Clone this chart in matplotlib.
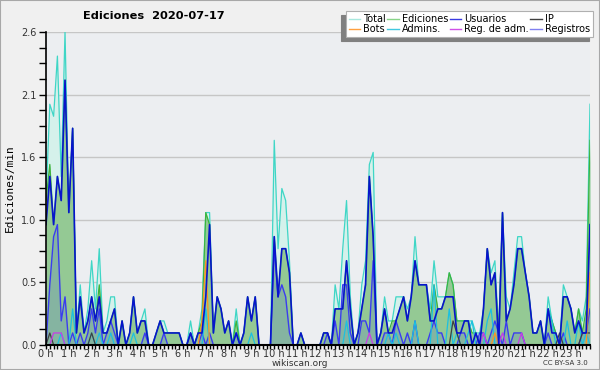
import matplotlib
matplotlib.use("Agg")
import matplotlib.pyplot as plt
from matplotlib.lines import Line2D
from matplotlib.ticker import FixedLocator, MultipleLocator
import numpy as np

# valores cada 10 minutos (ediciones/min), 6 por hora
total = [
    1.2, 2.0, 1.9, 2.4, 1.4, 2.6,   # 0 h
    1.1, 1.8, 0.1, 0.5, 0.1, 0.3,   # 1 h
    0.7, 0.3, 0.8, 0.1, 0.2, 0.4,   # 2 h
    0.4, 0.0, 0.2, 0.0, 0.1, 0.4,   # 3 h
    0.1, 0.2, 0.3, 0.0, 0.0, 0.1,   # 4 h
    0.2, 0.2, 0.1, 0.1, 0.1, 0.1,   # 5 h
    0.0, 0.0, 0.2, 0.0, 0.1, 0.3,   # 6 h
    1.1, 1.1, 0.1, 0.4, 0.3, 0.1,   # 7 h
    0.2, 0.0, 0.3, 0.0, 0.1, 0.4,   # 8 h
    0.2, 0.4, 0.0, 0.0, 0.0, 0.0,   # 9 h
    1.7, 0.8, 1.3, 1.2, 0.7, 0.0,   # 10 h
    0.0, 0.1, 0.0, 0.0, 0.0, 0.0,   # 11 h
    0.0, 0.1, 0.1, 0.0, 0.5, 0.3,   # 12 h
    0.8, 1.2, 0.4, 0.0, 0.1, 0.5,   # 13 h
    0.7, 1.5, 1.6, 0.0, 0.1, 0.4,   # 14 h
    0.2, 0.2, 0.4, 0.4, 0.4, 0.3,   # 15 h
    0.4, 0.9, 0.5, 0.5, 0.5, 0.3,   # 16 h
    0.7, 0.4, 0.4, 0.4, 0.6, 0.5,   # 17 h
    0.2, 0.2, 0.2, 0.2, 0.2, 0.1,   # 18 h
    0.1, 0.3, 0.8, 0.6, 0.7, 0.1,   # 19 h
    1.1, 0.4, 0.3, 0.6, 0.9, 0.9,   # 20 h
    0.6, 0.4, 0.1, 0.1, 0.2, 0.0,   # 21 h
    0.4, 0.2, 0.1, 0.0, 0.5, 0.4,   # 22 h
    0.3, 0.1, 0.3, 0.2, 0.4, 2.0,   # 23 h
]
ediciones = [
    1.2, 1.5, 1.0, 1.4, 1.2, 2.2,
    1.1, 1.8, 0.1, 0.4, 0.1, 0.2,
    0.4, 0.2, 0.5, 0.1, 0.1, 0.2,
    0.3, 0.0, 0.2, 0.0, 0.1, 0.4,
    0.1, 0.2, 0.2, 0.0, 0.0, 0.1,
    0.2, 0.1, 0.1, 0.1, 0.1, 0.1,
    0.0, 0.0, 0.1, 0.0, 0.1, 0.2,
    1.1, 1.0, 0.1, 0.4, 0.3, 0.1,
    0.2, 0.0, 0.2, 0.0, 0.1, 0.4,
    0.2, 0.4, 0.0, 0.0, 0.0, 0.0,
    0.9, 0.4, 0.8, 0.8, 0.6, 0.0,
    0.0, 0.1, 0.0, 0.0, 0.0, 0.0,
    0.0, 0.1, 0.1, 0.0, 0.3, 0.3,
    0.3, 0.7, 0.3, 0.0, 0.1, 0.3,
    0.5, 1.4, 0.9, 0.0, 0.1, 0.3,
    0.1, 0.2, 0.2, 0.3, 0.4, 0.2,
    0.4, 0.7, 0.5, 0.5, 0.5, 0.2,
    0.5, 0.3, 0.3, 0.4, 0.6, 0.5,
    0.2, 0.2, 0.2, 0.2, 0.1, 0.1,
    0.0, 0.3, 0.8, 0.5, 0.6, 0.1,
    1.1, 0.2, 0.3, 0.5, 0.8, 0.8,
    0.6, 0.4, 0.1, 0.1, 0.2, 0.0,
    0.3, 0.2, 0.1, 0.0, 0.4, 0.4,
    0.3, 0.1, 0.3, 0.1, 0.3, 1.7,
]
usuarios = [
    1.0, 1.4, 1.0, 1.4, 1.2, 2.2,
    1.1, 1.8, 0.1, 0.4, 0.1, 0.2,
    0.4, 0.2, 0.4, 0.1, 0.1, 0.2,
    0.3, 0.0, 0.2, 0.0, 0.1, 0.4,
    0.1, 0.2, 0.2, 0.0, 0.0, 0.1,
    0.2, 0.1, 0.1, 0.1, 0.1, 0.1,
    0.0, 0.0, 0.1, 0.0, 0.1, 0.1,
    0.4, 1.0, 0.1, 0.4, 0.3, 0.1,
    0.2, 0.0, 0.1, 0.0, 0.1, 0.4,
    0.2, 0.4, 0.0, 0.0, 0.0, 0.0,
    0.9, 0.4, 0.8, 0.8, 0.6, 0.0,
    0.0, 0.1, 0.0, 0.0, 0.0, 0.0,
    0.0, 0.1, 0.1, 0.0, 0.3, 0.3,
    0.3, 0.7, 0.3, 0.0, 0.1, 0.3,
    0.5, 1.4, 0.9, 0.0, 0.1, 0.3,
    0.1, 0.1, 0.2, 0.3, 0.4, 0.2,
    0.4, 0.7, 0.5, 0.5, 0.5, 0.2,
    0.2, 0.3, 0.3, 0.4, 0.4, 0.4,
    0.1, 0.1, 0.2, 0.2, 0.0, 0.1,
    0.0, 0.3, 0.8, 0.5, 0.6, 0.0,
    1.1, 0.2, 0.3, 0.5, 0.8, 0.8,
    0.6, 0.4, 0.1, 0.1, 0.2, 0.0,
    0.3, 0.1, 0.1, 0.0, 0.4, 0.4,
    0.3, 0.1, 0.2, 0.1, 0.1, 1.0,
]
registros = [
    0.0, 0.5, 0.9, 1.0, 0.2, 0.4,
    0.0, 0.1, 0.0, 0.1, 0.0, 0.1,
    0.3, 0.1, 0.3, 0.0, 0.1, 0.2,
    0.1, 0.0, 0.0, 0.0, 0.0, 0.0,
    0.0, 0.0, 0.1, 0.0, 0.0, 0.0,
    0.0, 0.1, 0.0, 0.0, 0.0, 0.0,
    0.0, 0.0, 0.1, 0.0, 0.0, 0.1,
    0.0, 0.1, 0.0, 0.0, 0.0, 0.0,
    0.0, 0.0, 0.1, 0.0, 0.0, 0.0,
    0.0, 0.0, 0.0, 0.0, 0.0, 0.0,
    0.8, 0.4, 0.5, 0.4, 0.1, 0.0,
    0.0, 0.0, 0.0, 0.0, 0.0, 0.0,
    0.0, 0.0, 0.1, 0.0, 0.2, 0.0,
    0.5, 0.5, 0.1, 0.0, 0.0, 0.2,
    0.2, 0.1, 0.7, 0.0, 0.0, 0.1,
    0.1, 0.0, 0.2, 0.1, 0.0, 0.1,
    0.0, 0.2, 0.0, 0.0, 0.0, 0.1,
    0.2, 0.1, 0.1, 0.0, 0.0, 0.0,
    0.0, 0.1, 0.1, 0.0, 0.0, 0.0,
    0.1, 0.1, 0.0, 0.1, 0.2, 0.1,
    0.0, 0.2, 0.0, 0.1, 0.1, 0.1,
    0.0, 0.0, 0.0, 0.0, 0.0, 0.0,
    0.1, 0.0, 0.0, 0.0, 0.1, 0.0,
    0.0, 0.0, 0.0, 0.1, 0.1, 0.3,
]
# series pequeñas: {indice: valor}, el resto es 0
admins_pts = {4: 0.1, 7: 0.3, 12: 0.1, 14: 0.1, 17: 0.1, 23: 0.1, 42: 0.3,
              50: 0.1, 54: 0.1, 79: 0.2, 90: 0.1, 92: 0.1, 97: 0.2, 102: 0.5,
              106: 0.3, 108: 0.1, 111: 0.1, 112: 0.2, 116: 0.2, 117: 0.3,
              132: 0.3, 133: 0.2, 137: 0.2, 140: 0.2, 142: 0.1}
ip_pts = {1: 0.1, 12: 0.1, 107: 0.2, 108: 0.1, 135: 0.1, 141: 0.1, 142: 0.1, 143: 0.1}
bots_pts = {41: 0.2, 42: 0.7, 118: 0.1, 143: 0.6}
regadm_pts = {2: 0.1, 3: 0.1, 4: 0.1, 85: 0.1, 115: 0.1, 120: 0.1, 125: 0.1}

hour_labels = [f"{h} h" for h in range(24)]

n = len(total)
x = np.arange(n) / 6.0


def expand(pts):
    arr = np.zeros(n)
    for k, v in pts.items():
        arr[k] = v
    return arr


admins = expand(admins_pts)
ip = expand(ip_pts)
bots = expand(bots_pts)
regadm = expand(regadm_pts)

fig = plt.figure(figsize=(6, 3.7), dpi=100, facecolor="#f0f0f0")
fig.patches.append(plt.Rectangle((0, 0), 1, 1, transform=fig.transFigure,
                                 fill=False, edgecolor="#a8a8a8", lw=1.5))
ax = fig.add_axes([46 / 600, 1 - 345 / 370, 544 / 600, 313 / 370])
ax.set_facecolor("#eceef1")

ax.fill_between(x, total, color="#d5f1eb", lw=0)
ax.plot(x, total, color="#3fd6c6", lw=0.9)
ax.fill_between(x, ediciones, color="#94c994", lw=0)
ax.plot(x, ediciones, color="#3cb43c", lw=0.9)
ax.fill_between(x, registros, color="#3040f0", alpha=0.15, lw=0)
ax.plot(x, registros, color="#3a3cf0", lw=1.0)
ax.plot(x, admins, color="#1cc0e0", lw=0.9)
ax.plot(x, ip, color="#404040", lw=0.9)
ax.plot(x, bots, color="#ff9420", lw=0.9)
ax.plot(x, regadm, color="#c83ce6", lw=0.9)
ax.plot(x, usuarios, color="#0814cc", lw=1.2)

ax.set_xlim(0, x[-1])
ax.set_ylim(0, 2.6)
yt = np.linspace(0, 2.6, 6)
ax.yaxis.set_major_locator(FixedLocator(yt))
ax.set_yticklabels([f"{v:.1f}" for v in yt])
ax.yaxis.set_minor_locator(MultipleLocator(0.13))
ax.xaxis.set_major_locator(FixedLocator(range(24)))
ax.set_xticklabels(hour_labels)
ax.xaxis.set_minor_locator(MultipleLocator(1 / 6))
ax.grid(axis="y", color="#c6c6c6", lw=1)
ax.set_axisbelow(True)
ax.tick_params(axis="both", which="both", direction="out", colors="black",
               labelcolor="#333333", labelsize=7, width=1)
ax.tick_params(axis="x", which="both", length=3, pad=0)
ax.tick_params(axis="y", which="both", length=5, pad=2)
for s in ["top", "right"]:
    ax.spines[s].set_visible(False)
ax.spines["left"].set_linewidth(1.2)
ax.spines["bottom"].set_linewidth(1.5)

ax.set_ylabel("Ediciones/min", fontsize=8, family="DejaVu Sans Mono", labelpad=4)
fig.text(154 / 600, 1 - 16 / 370, "Ediciones  2020-07-17", ha="center", va="center",
         fontsize=8.2, fontweight="bold")
fig.text(300 / 600, 1 - 363 / 370, "wikiscan.org", ha="center", va="center",
         fontsize=6.5, color="#333333")
fig.text(588 / 600, 1 - 363 / 370, "CC BY-SA 3.0", ha="right", va="center",
         fontsize=5, color="#333333")

names = ["Total", "Bots", "Ediciones", "Admins.", "Usuarios", "Reg. de adm.",
         "IP", "Registros"]
cols = ["#a8e8de", "#ffa040", "#88d488", "#40c8e0", "#3a3ae2", "#d050e8",
        "#404040", "#8080f0"]
handles = [Line2D([], [], color=c, lw=1) for c in cols]
leg = fig.legend(handles, names, ncol=4, loc="upper right",
                 bbox_to_anchor=(593 / 600, 1 - 11 / 370), fontsize=7,
                 frameon=True, fancybox=False, edgecolor="#b0b0b0",
                 facecolor="white", framealpha=1, borderpad=0.3,
                 labelspacing=0.05, columnspacing=0.15, handlelength=1.2,
                 handletextpad=0.3, borderaxespad=0,
                 shadow={"ox": -3, "oy": -3, "facecolor": "#808080",
                         "edgecolor": "#808080", "alpha": 1})
leg.get_frame().set_linewidth(0.8)

fig.savefig("out.png", dpi=100, facecolor=fig.get_facecolor())
